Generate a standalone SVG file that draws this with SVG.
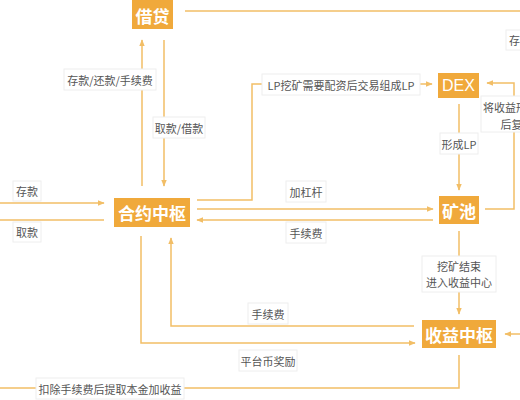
<svg xmlns="http://www.w3.org/2000/svg" width="520" height="400" viewBox="0 0 520 400">
<style>
.node rect{fill:#F0A93B}
.node text{fill:#fff;font-family:"Noto Sans CJK SC","Liberation Sans",sans-serif;font-size:17px;font-weight:bold;text-anchor:middle;dominant-baseline:central}
.ln{fill:none;stroke:#F2BE66;stroke-width:1.5}
.lb rect{fill:#fff;stroke:#eeeeee;stroke-width:1}
.lb text{fill:#555;font-family:"Noto Sans CJK SC","Liberation Sans",sans-serif;font-size:11px;text-anchor:middle;dominant-baseline:central}
</style>
<defs>
<marker id="ar" viewBox="0 0 10 10" refX="9" refY="5" markerWidth="7" markerHeight="7" orient="auto" markerUnits="userSpaceOnUse">
<path d="M0,1 L10,5 L0,9 z" fill="#F2BE66"/>
</marker>
</defs>
<rect width="520" height="400" fill="#fff"/>
<g id="connectors">
<path class="ln" d="M185,11 H520"/>
<path class="ln" d="M142,186 V40" marker-end="url(#ar)"/>
<path class="ln" d="M164,40 V186" marker-end="url(#ar)"/>
<path class="ln" d="M197,200 H252 V84 H432" marker-end="url(#ar)"/>
<path class="ln" d="M197,209 H433" marker-end="url(#ar)"/>
<path class="ln" d="M433,220 H197" marker-end="url(#ar)"/>
<path class="ln" d="M459,104 V190" marker-end="url(#ar)"/>
<path class="ln" d="M459,231 V314" marker-end="url(#ar)"/>
<path class="ln" d="M485,209 H514 V83 H487" marker-end="url(#ar)"/>
<path class="ln" d="M414,326 H171 V238" marker-end="url(#ar)"/>
<path class="ln" d="M141,236 V343 H415" marker-end="url(#ar)"/>
<path class="ln" d="M459,355 V388 H0"/>
<path class="ln" d="M0,203 H104" marker-end="url(#ar)"/>
<path class="ln" d="M104,220 H0"/>
<path class="ln" d="M520,334 H505" marker-end="url(#ar)"/>
</g>
<g id="labels">
<g class="lb"><rect x="64" y="69" width="92" height="21"/><text x="110" y="79.5">存款/还款/手续费</text></g>
<g class="lb"><rect x="153" y="117" width="52" height="21"/><text x="179" y="127.5">取款/借款</text></g>
<g class="lb"><rect x="262" y="74" width="158" height="21"/><text x="341" y="84.5">LP挖矿需要配资后交易组成LP</text></g>
<g class="lb"><rect x="440" y="133" width="38" height="21"/><text x="459" y="143.5">形成LP</text></g>
<g class="lb"><rect x="481" y="96" width="80" height="36"/><text x="517" y="107">将收益形成LP</text><text x="517" y="124">后复投</text></g>
<g class="lb"><rect x="506" y="30" width="40" height="20"/><text x="520" y="40">存款</text></g>
<g class="lb"><rect x="286" y="181" width="40" height="21"/><text x="306" y="191.5">加杠杆</text></g>
<g class="lb"><rect x="286" y="222" width="40" height="21"/><text x="306" y="232.5">手续费</text></g>
<g class="lb"><rect x="13" y="181" width="28" height="20"/><text x="27" y="191">存款</text></g>
<g class="lb"><rect x="13" y="222" width="28" height="20"/><text x="27" y="232">取款</text></g>
<g class="lb"><rect x="422" y="256" width="74" height="36"/><text x="459" y="266">挖矿结束</text><text x="459" y="282">进入收益中心</text></g>
<g class="lb"><rect x="248" y="303" width="40" height="21"/><text x="268" y="313.5">手续费</text></g>
<g class="lb"><rect x="239" y="350" width="58" height="21"/><text x="268" y="360.5">平台币奖励</text></g>
<g class="lb"><rect x="36" y="378" width="148" height="21"/><text x="110" y="388.5">扣除手续费后提取本金加收益</text></g>
</g>
<g id="node-jiedai" class="node"><rect x="132" y="0" width="41" height="29"/><text x="152.5" y="15">借贷</text></g>
<g id="node-dex" class="node"><rect x="438" y="73" width="41" height="25"/><text x="458.5" y="85.5" style="font-family:'Liberation Sans',sans-serif;font-weight:normal;font-size:16px">DEX</text></g>
<g id="node-hub" class="node"><rect x="114" y="198" width="76" height="29"/><text x="152" y="212.5">合约中枢</text></g>
<g id="node-pool" class="node"><rect x="439" y="196" width="40" height="28"/><text x="459" y="210">矿池</text></g>
<g id="node-yield" class="node"><rect x="422" y="320" width="74" height="28"/><text x="459" y="334">收益中枢</text></g>
</svg>
